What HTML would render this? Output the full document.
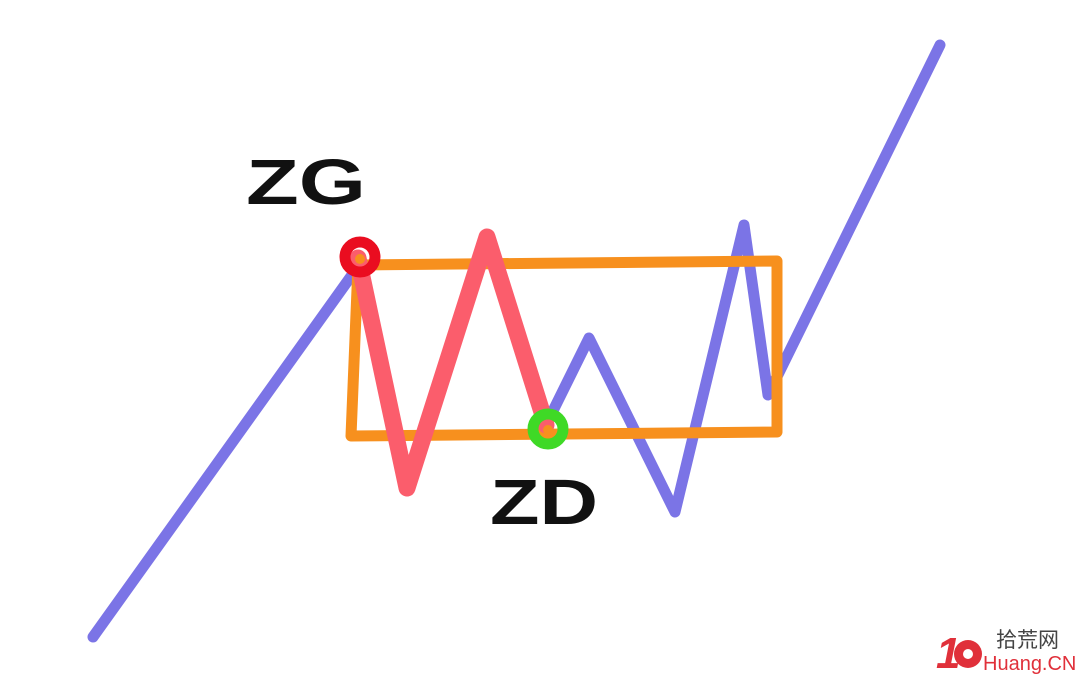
<!DOCTYPE html>
<html><head><meta charset="utf-8"><style>
html,body{margin:0;padding:0;background:#fff}
svg{display:block}
</style></head><body>
<svg width="1080" height="683" viewBox="0 0 1080 683" xmlns="http://www.w3.org/2000/svg">
<rect width="1080" height="683" fill="#fff"/>
<g fill="none" stroke-linecap="round" stroke-linejoin="round">
<polyline points="93,637 357,268" stroke="#7b74e6" stroke-width="11"/>
<polyline points="546,425 589,338 675,512 744,225 768,395 940,45" stroke="#7b74e6" stroke-width="11"/>
<polygon points="358,265 777,261 777,432 351,436" stroke="#f7901e" stroke-width="11"/>
<polyline points="358,258 407,488 487,237 546,425" stroke="#fb5d6c" stroke-width="17"/>
<circle cx="360" cy="257" r="15" stroke="#ea0d20" stroke-width="11"/>
<circle cx="548" cy="429" r="15" stroke="#3fd926" stroke-width="11"/>
</g>
<circle cx="360" cy="259" r="5" fill="#f7901e"/>
<circle cx="548" cy="430" r="5" fill="#f7901e"/>
<text x="246" y="204" font-family="Liberation Sans, sans-serif" font-size="64" font-weight="bold" fill="#111" textLength="120" lengthAdjust="spacingAndGlyphs">ZG</text>
<text x="490" y="524" font-family="Liberation Sans, sans-serif" font-size="64" font-weight="bold" fill="#111" textLength="108" lengthAdjust="spacingAndGlyphs">ZD</text>
<text x="936" y="668" font-family="Liberation Sans, sans-serif" font-size="44" font-weight="bold" font-style="italic" fill="#e0303a">1</text>
<circle cx="968" cy="654" r="14" fill="#e0303a"/>
<circle cx="968" cy="654" r="5" fill="#fff"/>
<text x="996" y="647" font-family="Liberation Sans, 'Noto Sans CJK SC', sans-serif" font-size="21" fill="#444">拾荒网</text>
<text x="983" y="670" font-family="Liberation Sans, sans-serif" font-size="20" fill="#e0303a">Huang.CN</text>
</svg>
</body></html>
